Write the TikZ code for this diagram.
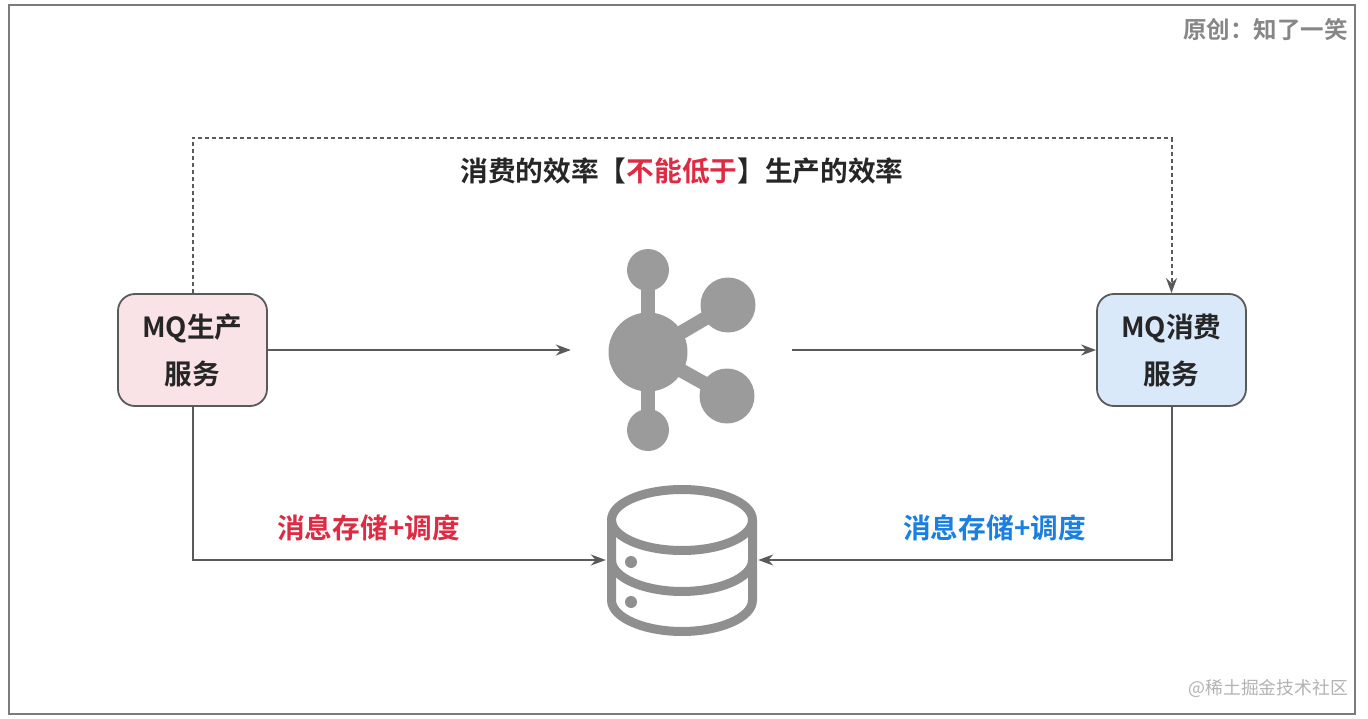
\documentclass[tikz,border=0pt]{standalone}
\usepackage{fontspec}
\setmainfont{Noto Sans CJK SC}[BoldFont={Noto Sans CJK SC Bold}]
\newfontfamily\cjkb{Noto Sans CJK SC Bold}
\newfontfamily\cjkl{Noto Sans CJK SC}
\usetikzlibrary{arrows.meta}
\definecolor{linegray}{HTML}{5A5A5A}
\definecolor{icongray}{HTML}{9B9B9B}
\definecolor{dbgray}{HTML}{8F8F8F}
\definecolor{txt}{HTML}{262626}
\definecolor{redt}{HTML}{DE2A42}
\definecolor{bluet}{HTML}{1A7FE0}
\definecolor{pinkfill}{HTML}{FAE3E6}
\definecolor{bluefill}{HTML}{DAE9FA}
\tikzset{
  box/.style={draw=linegray,line width=1.8pt,rounded corners=17pt,minimum width=149pt,minimum height=112pt,inner sep=0pt,align=center,font=\cjkb\fontsize{27.7}{47}\selectfont,text=txt},
  conn/.style={draw=linegray,line width=2pt,-{Stealth[length=15pt,width=11pt]}},
  dashconn/.style={conn,dash pattern=on 4pt off 3pt},
  label/.style={inner sep=0pt,font=\cjkb\fontsize{27.7}{32}\selectfont},
  hub/.style={fill=icongray,draw=none},
  spoke/.style={draw=icongray,line width=14pt},
  dbline/.style={draw=dbgray,line width=9pt},
  placeholder/.style={draw=none,inner sep=0pt}
}
\begin{document}
\begin{tikzpicture}[x=1pt,y=-1pt]
\useasboundingbox (0,0) rectangle (1368,719);
\draw[draw=linegray!80,line width=2pt] (9,5) rectangle (1355,714);
\node[box,fill=pinkfill] (prod) at (192.5,350) {MQ生产\\服务};
\node[box,fill=bluefill] (cons) at (1171.5,350) {MQ消费\\服务};
\node[placeholder,minimum width=221pt,minimum height=10pt] (mq) at (681.5,350) {};
\node[placeholder,minimum width=152pt,minimum height=10pt] (db) at (682,560) {};
\coordinate (topline) at (682,138);
% message hub icon
\draw[spoke] (648,270) -- (648,430);
\draw[spoke] (648,352) -- (728,305);
\draw[spoke] (648,352) -- (727,396);
\fill[hub] (648,352) circle (39.5);
\fill[hub] (648,270) circle (21);
\fill[hub] (648,430) circle (21);
\fill[hub] (728,305) circle (27.5);
\fill[hub] (727,396) circle (27.5);
% database icon
\draw[dbline] (682,520) ellipse [x radius=70.5,y radius=30.5];
\draw[dbline] (611.5,520) -- (611.5,600) .. controls (611.5,618) and (645,631.5) .. (682,631.5) .. controls (719,631.5) and (752.5,618) .. (752.5,600) -- (752.5,520);
\draw[dbline] (611.5,560) .. controls (611.5,578) and (645,591.5) .. (682,591.5) .. controls (719,591.5) and (752.5,578) .. (752.5,560);
\fill[dbgray] (631,562) circle (6);
\fill[dbgray] (631,602) circle (6);
% connectors
\draw[conn] (prod.east) -- (mq.west);
\draw[conn] (mq.east) -- (cons.west);
\draw[dashconn] (prod.north) |- (topline) -| (cons.north);
\draw[conn] (prod.south) |- (db.west);
\draw[conn] (cons.south) |- (db.east);
% labels
\node[label,text=txt] (eff) at (682,171) {消费的效率【\textcolor{redt}{不能低于}】生产的效率};
\node[label,text=redt] (l1) at (368.5,528) {消息存储+调度};
\node[label,text=bluet] (l2) at (994.5,528) {消息存储+调度};
\node[inner sep=0pt,anchor=east,text=gray!95,font=\cjkb\fontsize{23.5}{28}\selectfont] (orig) at (1348,30) {原创：知了一笑};
\node[inner sep=0pt,anchor=east,text=gray!60,font=\cjkl\fontsize{17.8}{22}\selectfont] (wm) at (1348,688) {@稀土掘金技术社区};
\end{tikzpicture}
\end{document}
